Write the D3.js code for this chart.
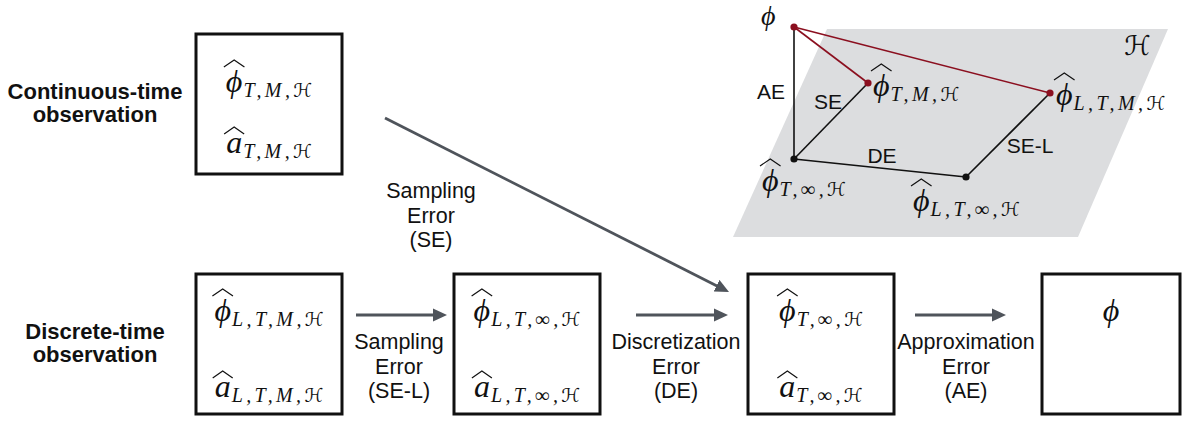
<!DOCTYPE html>
<html>
<head>
<meta charset="utf-8">
<script src="https://cdn.jsdelivr.net/npm/d3@7"></script>
<style>
  html, body { margin: 0; padding: 0; background: #fff; }
  svg { display: block; }
  .sans { font-family: "Liberation Sans", Arial, Helvetica, sans-serif; fill: #111; }
  .math { font-family: "Liberation Serif", "DejaVu Serif", serif; font-style: italic; fill: #111; }
  .cal { font-family: "DejaVu Sans", sans-serif; font-style: normal; }
</style>
</head>
<body>
<div id="chart"></div>
<script>
// ---- data ----
const rowLabels = [
  ['Continuous-time', 'observation'],
  ['Discrete-time', 'observation']
];

// estimator boxes: row, column, and the two expressions inside
const stages = [
  { id: 'cont', row: 0, col: 0, lines: [{ base: 'ϕ', sub: 'T,M,ℋ', hat: true }, { base: 'a', sub: 'T,M,ℋ', hat: true }] },
  { id: 'disc', row: 1, col: 0, lines: [{ base: 'ϕ', sub: 'L,T,M,ℋ', hat: true }, { base: 'a', sub: 'L,T,M,ℋ', hat: true }] },
  { id: 'lt', row: 1, col: 1, lines: [{ base: 'ϕ', sub: 'L,T,∞,ℋ', hat: true }, { base: 'a', sub: 'L,T,∞,ℋ', hat: true }] },
  { id: 'tinf', row: 1, col: 2, lines: [{ base: 'ϕ', sub: 'T,∞,ℋ', hat: true }, { base: 'a', sub: 'T,∞,ℋ', hat: true }] },
  { id: 'true', row: 1, col: 3, lines: [{ base: 'ϕ', sub: '', hat: false }] }
];

// error arrows between stages
const errors = [
  { from: 'disc', to: 'lt', text: ['Sampling', 'Error', '(SE-L)'] },
  { from: 'lt', to: 'tinf', text: ['Discretization', 'Error', '(DE)'] },
  { from: 'tinf', to: 'true', text: ['Approximation', 'Error', '(AE)'] },
  { from: 'cont', to: 'tinf', text: ['Sampling', 'Error', '(SE)'] }
];

// geometric sketch in the hypothesis space
const sketchPoints = [
  { id: 'phi', base: 'ϕ', sub: '', hat: false, red: true },
  { id: 'tmh', base: 'ϕ', sub: 'T,M,ℋ', hat: true, red: true },
  { id: 'ltmh', base: 'ϕ', sub: 'L,T,M,ℋ', hat: true, red: true },
  { id: 'tinf', base: 'ϕ', sub: 'T,∞,ℋ', hat: true, red: false },
  { id: 'ltinf', base: 'ϕ', sub: 'L,T,∞,ℋ', hat: true, red: false }
];
const sketchEdges = [
  { a: 'phi', b: 'tmh', red: true, label: '' },
  { a: 'phi', b: 'ltmh', red: true, label: '' },
  { a: 'phi', b: 'tinf', red: false, label: 'AE' },
  { a: 'tmh', b: 'tinf', red: false, label: 'SE' },
  { a: 'tinf', b: 'ltinf', red: false, label: 'DE' },
  { a: 'ltinf', b: 'ltmh', red: false, label: 'SE-L' }
];

// ---- layout ----
const W = 1185, H = 421;
const arrowColor = '#4f545b';
const darkRed = '#8b0f1f';
const colX = [196, 454, 748, 1042];
const colW = [146, 146, 146, 138];
const rowY = [34, 274];
const boxH = 140;
const lineBase = [[58, 119], [47, 123]]; // baselines of expressions, relative to box top, per row
const textPos = {
  'disc>lt': { x: 399, y: 349, x1: 356, y1: 315, x2: 447, y2: 315 },
  'lt>tinf': { x: 676, y: 349, x1: 636, y1: 315, x2: 728, y2: 315 },
  'tinf>true': { x: 966, y: 349, x1: 915, y1: 315, x2: 1006, y2: 315 },
  'cont>tinf': { x: 431, y: 198, x1: 385, y1: 118, x2: 729, y2: 292 }
};
const plane = [[827, 29], [1168, 29], [1078, 237], [733, 237]];
const sketchXY = {
  phi: [794, 27], tmh: [868, 83], ltmh: [1050, 93], tinf: [794, 159], ltinf: [966, 177]
};
const sketchLabelXY = {
  phi: [761, 25, 'start'], tmh: [873, 96, 'start'], ltmh: [1056, 105, 'start'],
  tinf: [762, 191, 'start'], ltinf: [913, 211, 'start']
};
const edgeLabelXY = { AE: [771, 99], SE: [828, 109], DE: [882, 163], 'SE-L': [1030, 153] };

const mainSize = 32, subSize = 20, subDrop = 5, subGap = 1, subSpacing = 3.4;

const svg = d3.select('#chart').append('svg').attr('width', W).attr('height', H);
const defs = svg.append('defs');
defs.append('marker')
  .attr('id', 'head')
  .attr('markerUnits', 'userSpaceOnUse')
  .attr('viewBox', '0 0 14 14')
  .attr('refX', 5).attr('refY', 7)
  .attr('markerWidth', 14).attr('markerHeight', 14)
  .attr('orient', 'auto')
  .append('path').attr('d', 'M0,0.5 L14,7 L0,13.5 Z').attr('fill', arrowColor);

// split a subscript so the calligraphic H can use its own font
function subParts(sub) {
  return sub.split(/(ℋ)/).filter((d) => d);
}

function drawMath(parent, expr, x, y, anchor, size = mainSize) {
  const g = parent.append('g');
  const base = g.append('text').attr('class', 'math').attr('font-size', size).text(expr.base);
  const w = base.node().getComputedTextLength();
  let total = w;
  if (expr.sub) {
    const s = g.append('text').attr('class', 'math')
      .attr('x', w + subGap).attr('y', subDrop)
      .attr('font-size', subSize)
      .attr('letter-spacing', subSpacing);
    s.selectAll('tspan').data(subParts(expr.sub)).join('tspan')
      .attr('class', (d) => (d === 'ℋ' ? 'cal' : null))
      .attr('font-size', (d) => (d === 'ℋ' ? subSize * 0.95 : null))
      .text((d) => d);
    total = w + subGap + s.node().getComputedTextLength() - subSpacing;
  }
  if (expr.hat) {
    const top = expr.base === 'a' ? -26 : -32;
    g.append('path')
      .attr('d', `M${-2},${top + 7} L${w / 2},${top} L${w + 2},${top + 7}`)
      .attr('fill', 'none').attr('stroke', '#111').attr('stroke-width', 1.2);
  }
  const x0 = anchor === 'middle' ? x - total / 2 : x;
  g.attr('transform', `translate(${x0},${y})`);
  return g;
}

// ---- row labels ----
const labelLayer = svg.append('g');
rowLabels.forEach((lines, r) => {
  const cy = rowY[r] + boxH / 2;
  labelLayer.append('text').attr('class', 'sans')
    .attr('text-anchor', 'middle').attr('font-weight', 'bold').attr('font-size', 22)
    .selectAll('tspan').data(lines).join('tspan')
    .attr('x', 95).attr('y', (d, i) => cy - 5 + i * 23)
    .text((d) => d);
});

// ---- boxes ----
const boxLayer = svg.append('g');
stages.forEach((s) => {
  const x = colX[s.col], y = rowY[s.row], w = colW[s.col];
  boxLayer.append('rect')
    .attr('x', x).attr('y', y).attr('width', w).attr('height', boxH)
    .attr('fill', '#fff').attr('stroke', '#111').attr('stroke-width', 3);
  s.lines.forEach((expr, i) => {
    drawMath(boxLayer, expr, x + w / 2, y + lineBase[s.row][i], 'middle');
  });
});

// ---- error arrows ----
const arrowLayer = svg.append('g');
errors.forEach((e) => {
  const p = textPos[`${e.from}>${e.to}`];
  const len = Math.hypot(p.x2 - p.x1, p.y2 - p.y1);
  const ux = (p.x2 - p.x1) / len, uy = (p.y2 - p.y1) / len;
  arrowLayer.append('line')
    .attr('x1', p.x1).attr('y1', p.y1)
    .attr('x2', p.x2 - ux * 9).attr('y2', p.y2 - uy * 9)
    .attr('stroke', arrowColor).attr('stroke-width', 2.8)
    .attr('marker-end', 'url(#head)');
  arrowLayer.append('text').attr('class', 'sans')
    .attr('text-anchor', 'middle').attr('font-size', 21.5)
    .selectAll('tspan').data(e.text).join('tspan')
    .attr('x', p.x).attr('y', (d, i) => p.y + i * 24.5)
    .text((d) => d);
});

// ---- hypothesis-space sketch ----
const sketch = svg.append('g');
sketch.append('path')
  .attr('d', d3.line()(plane) + 'Z')
  .attr('fill', '#dcdddf');
sketch.append('text').attr('class', 'math cal')
  .attr('x', 1124).attr('y', 55).attr('font-size', 27)
  .text('ℋ');

sketch.selectAll('line.edge').data(sketchEdges).join('line')
  .attr('class', 'edge')
  .attr('x1', (d) => sketchXY[d.a][0]).attr('y1', (d) => sketchXY[d.a][1])
  .attr('x2', (d) => sketchXY[d.b][0]).attr('y2', (d) => sketchXY[d.b][1])
  .attr('stroke', (d) => (d.red ? darkRed : '#111'))
  .attr('stroke-width', 1.6);

sketch.selectAll('text.edge-label').data(sketchEdges.filter((d) => d.label)).join('text')
  .attr('class', 'sans edge-label')
  .attr('text-anchor', 'middle').attr('font-size', 21)
  .attr('x', (d) => edgeLabelXY[d.label][0]).attr('y', (d) => edgeLabelXY[d.label][1])
  .text((d) => d.label);

sketch.selectAll('circle').data(sketchPoints).join('circle')
  .attr('cx', (d) => sketchXY[d.id][0]).attr('cy', (d) => sketchXY[d.id][1])
  .attr('r', 3.6)
  .attr('fill', (d) => (d.red ? darkRed : '#111'));

sketchPoints.forEach((p) => {
  const [x, y, anchor] = sketchLabelXY[p.id];
  // the lone phi sits against the top edge, so it is set a little smaller
  drawMath(sketch, p, x, y, anchor, p.sub ? mainSize : 28);
});
</script>
</body>
</html>
